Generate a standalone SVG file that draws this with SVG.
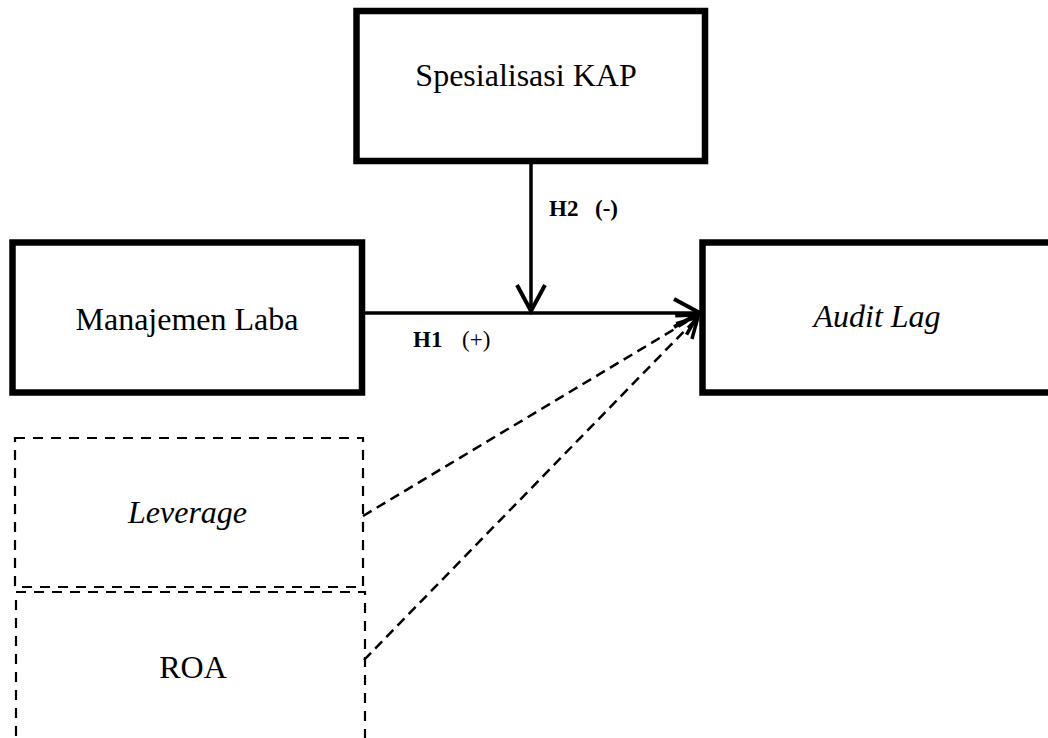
<svg xmlns="http://www.w3.org/2000/svg" width="1048" height="738" viewBox="0 0 1048 738">
<style>
.box{fill:#fff;stroke:#000;stroke-width:6.5}
.dbox{fill:none;stroke:#000;stroke-width:2.2;stroke-dasharray:10,8}
.lbl{font-family:"Liberation Serif","Times New Roman",serif;font-size:32px;fill:#000;text-anchor:middle}
.it{font-style:italic}
.h{font-family:"Liberation Serif","Times New Roman",serif;font-size:23px;fill:#000}
.b{font-weight:bold}
.solid{fill:none;stroke:#000;stroke-width:3.5}
.dash{fill:none;stroke:#000;stroke-width:2.5;stroke-dasharray:10,6}
</style>
<defs>
<marker id="arr" markerUnits="userSpaceOnUse" markerWidth="32" markerHeight="34" refX="27" refY="16" orient="auto" overflow="visible">
<path d="M1,2 L27,16 L1,30" fill="none" stroke="#000" stroke-width="4" stroke-dasharray="none"/>
</marker>
<marker id="arrd" markerUnits="userSpaceOnUse" markerWidth="32" markerHeight="34" refX="22" refY="16" orient="auto" overflow="visible">
<path d="M2,5 L22,16 L2,27" fill="none" stroke="#000" stroke-width="3.5" stroke-dasharray="none"/>
</marker>
</defs>
<g id="spesialisasi-kap">
<rect class="box" x="356.5" y="11" width="348.5" height="150"/>
<text class="lbl" x="526" y="86">Spesialisasi KAP</text>
</g>
<g id="manajemen-laba">
<rect class="box" x="12.5" y="242.5" width="349.5" height="150"/>
<text class="lbl" x="187" y="330">Manajemen Laba</text>
</g>
<g id="audit-lag">
<rect class="box" x="702.5" y="242.5" width="400" height="150"/>
<text class="lbl it" x="877" y="327">Audit Lag</text>
</g>
<g id="leverage">
<rect class="dbox" x="15" y="438" width="348" height="149"/>
<text class="lbl it" x="187.5" y="523">Leverage</text>
</g>
<g id="roa">
<rect class="dbox" x="16" y="592" width="349" height="200"/>
<text class="lbl" x="193" y="678">ROA</text>
</g>
<g id="connectors">
<line class="solid" x1="364" y1="313" x2="700" y2="313" marker-end="url(#arr)"/>
<line class="solid" x1="531" y1="164" x2="531" y2="311" marker-end="url(#arr)"/>
<line class="dash" x1="363" y1="516" x2="698" y2="315" marker-end="url(#arrd)"/>
<line class="dash" x1="364" y1="660" x2="698" y2="317" marker-end="url(#arrd)"/>
</g>
<g id="labels">
<text class="h b" x="549" y="216">H2</text>
<text class="h b" x="595" y="216">(-)</text>
<text class="h b" x="413" y="347">H1</text>
<text class="h" x="462" y="347">(+)</text>
</g>
</svg>
